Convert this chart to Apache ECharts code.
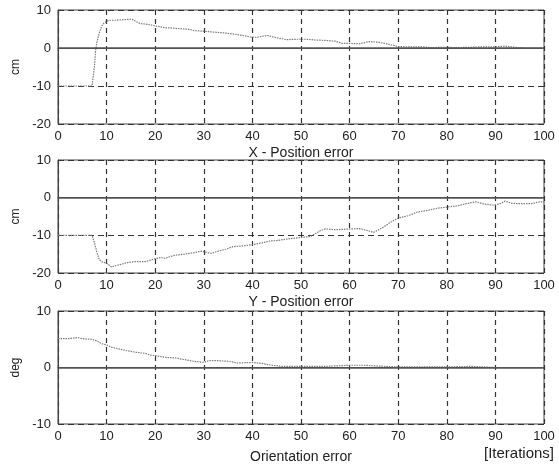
<!DOCTYPE html>
<html><head><meta charset="utf-8">
<script src="https://cdn.jsdelivr.net/npm/echarts@6/dist/echarts.min.js"></script>
<style>html,body{margin:0;padding:0;background:#fff}#c{width:559px;height:465px}</style>
</head><body><div id="c"></div>
<script>
// X - Position error [iteration, cm]
const xIter = [0,2,4,6,7,7.2,7.5,7.7,8,8.5,9,9.5,10,10.5,12,14,15,15.5,16,17,18,19,20,21,22,23,25,27,28,30,32,34,36,38,39.5,41,42,43,44,45,47,49,51,53,55,57,58.5,60,62,64,66,68,70,72,75,77,79,82,85,87,90,92,94,96,100];
const xErr  = [-10,-10,-10,-10,-10,-10,-5,-1,1.5,4,5.8,6.6,7.0,7.3,7.3,7.5,7.6,7.4,7.0,6.4,6.3,6.1,5.8,5.6,5.3,5.3,5.1,4.9,4.6,4.4,4.2,4.0,3.7,3.3,2.9,2.8,3.1,3.3,3.0,2.7,2.2,2.3,2.3,2.1,2.0,1.8,1.2,1.2,1.1,1.7,1.5,1.0,0.4,0.3,0.3,0.1,0.2,0.1,0.2,0.3,0.3,0.5,0.2,0.0,0.0];
// Y - Position error [iteration, cm]
const yIter = [0,2,4,6,7,7.5,8,8.5,9,10,11,12,13,14,15.8,18,20,21,22,24,26,28,29.5,31.5,33,34.5,36,38,40,42,43.6,45,47,49.8,52,53.9,55,57,59,62,63,65,67,68.3,70,72,74,76,78,80,82,84,86,87.7,89.7,91,92,93.4,95,97.5,99,100];
const yErr  = [-10,-10,-10,-10,-10,-12,-14.5,-16.5,-17,-17.4,-18.4,-18,-17.7,-17.3,-17,-17,-16.2,-15.9,-16.1,-15.3,-15,-14.6,-14.2,-14.8,-14.2,-13.7,-13,-12.8,-12.5,-12,-11.5,-11.4,-11,-10.6,-10.3,-8.8,-8.3,-8.5,-8.4,-8.2,-8.5,-9.2,-7.8,-6.6,-5.4,-4.8,-3.8,-3.4,-2.8,-2.5,-2.2,-1.6,-1.1,-1.7,-2,-1.6,-0.9,-1.5,-1.6,-1.6,-1.1,-1.1];
// Orientation error [iteration, deg]
const oIter = [0,2,4,5,7,8,9,10,11,12,14,16,18,19,20,22,24,26,28,30,31,33,35,37,40,42,44,46,50,55,60,63,65,70,80,85,90,100];
const oErr  = [5.1,5.1,5.3,5.1,5.0,4.7,4.2,4.0,3.6,3.4,3.0,2.7,2.5,2.2,2.1,1.8,1.7,1.4,1.1,0.9,1.2,1.2,1.1,0.8,0.9,0.7,0.4,0.2,0.2,0.2,0.4,0.4,0.3,0.1,0.1,0.2,0.0,0.0];

const xTicks = [0,10,20,30,40,50,60,70,80,90,100];
const titles = ['X - Position error','Y - Position error','Orientation error'];
const yNames = ['cm','cm','deg'];
const yRanges = [[-20,10],[-20,10],[-10,10]];

const FONT = 'Liberation Sans';
const TXT = '#222';
const grids = [
  {left:58, right:15, top:10, height:114},
  {left:58, right:15, top:160, height:113},
  {left:58, right:15, top:311, height:113}
];
const nameGaps = [22, 22, 26];

const xAxes = grids.map((g,i)=>({
  type:'value', gridIndex:i, min:xTicks[0], max:xTicks[xTicks.length-1], interval:10,
  name: titles[i], nameLocation:'middle', nameGap: nameGaps[i],
  nameTextStyle:{fontFamily:FONT, fontSize:14, color:TXT},
  axisLine:{show:true, lineStyle:{color:'#444', width:1}},
  axisTick:{show:false},
  axisLabel:{fontFamily:FONT, fontSize:13, color:TXT, margin:6},
  splitLine:{show:true, lineStyle:{color:'#333', type:[5,4], width:1.2}}
}));
const yAxes = grids.map((g,i)=>({
  type:'value', gridIndex:i, min:yRanges[i][0], max:yRanges[i][1], interval:10,
  name: yNames[i], nameLocation:'middle', nameGap:31, nameRotate:90,
  nameTextStyle:{fontFamily:FONT, fontSize:12, color:TXT},
  axisLine:{show:true, lineStyle:{color:'#444', width:1}},
  axisTick:{show:false},
  axisLabel:{fontFamily:FONT, fontSize:13, color:TXT, margin:7},
  splitLine:{show:true, lineStyle:{color:'#333', type:[6,4], width:1.2}}
}));

function pairs(xs, ys){ return xs.map((x,k)=>[x, ys[k]]); }
const datasets = [pairs(xIter,xErr), pairs(yIter,yErr), pairs(oIter,oErr)];

const series = datasets.map((d,i)=>({
  type:'line', xAxisIndex:i, yAxisIndex:i, data:d, showSymbol:false, symbol:'none',
  lineStyle:{color:'#7a7a7a', width:1.2, type:[1.5,1]}, silent:true, z:3,
  markLine:{silent:true, symbol:'none', label:{show:false},
    lineStyle:{color:'#555', type:'solid', width:1.5},
    data:[{yAxis:0}]}
}));

const chart = echarts.init(document.getElementById('c'), null, {renderer:'canvas'});
chart.setOption({
  animation:false,
  backgroundColor:'#fff',
  grid: grids.map(g=>Object.assign({show:true, borderColor:'#444', borderWidth:1, backgroundColor:'#fff'}, g)),
  xAxis:xAxes, yAxis:yAxes, series:series,
  graphic:[{type:'text', right:5, top:446, style:{text:'[Iterations]', font:'15px "Liberation Sans"', fill:TXT}}]
});
</script></body></html>
